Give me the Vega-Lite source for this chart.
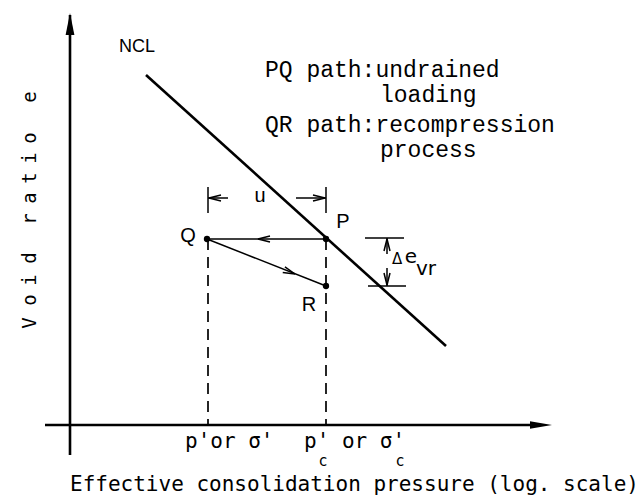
{
  "$schema": "https://vega.github.io/schema/vega-lite/v6.json",
  "width": 644,
  "height": 504,
  "autosize": {"type": "fit", "contains": "padding"},
  "padding": 0,
  "background": "white",
  "config": {"view": {"stroke": null}},
  "resolve": {"scale": {"shape": "independent"}},
  "datasets": {
    "thick": [
      {"x": 70, "y": 15, "x2": 70, "y2": 455},
      {"x": 45, "y": 425, "x2": 540, "y2": 425},
      {"x": 146, "y": 75, "x2": 446, "y2": 346}
    ],
    "thin": [
      {"x": 207, "y": 239, "x2": 326, "y2": 239},
      {"x": 207, "y": 239, "x2": 326, "y2": 286},
      {"x": 208, "y": 187, "x2": 208, "y2": 213},
      {"x": 326, "y": 187, "x2": 326, "y2": 213},
      {"x": 208, "y": 198, "x2": 228, "y2": 198},
      {"x": 296, "y": 198, "x2": 326, "y2": 198},
      {"x": 365, "y": 238, "x2": 404, "y2": 238},
      {"x": 368, "y": 286, "x2": 406, "y2": 286},
      {"x": 387, "y": 238, "x2": 387, "y2": 254},
      {"x": 387, "y": 268, "x2": 387, "y2": 286}
    ],
    "dashed": [
      {"x": 208, "y": 239, "x2": 208, "y2": 425},
      {"x": 326, "y": 239, "x2": 326, "y2": 425}
    ],
    "arrowsFilled": [
      {"x": 70, "y": 13, "dir": "up"},
      {"x": 552, "y": 425, "dir": "right"}
    ],
    "arrowsOpen": [
      {"x": 258, "y": 239, "dir": "left"},
      {"x": 295, "y": 274, "dir": "QR"},
      {"x": 209, "y": 198, "dir": "left"},
      {"x": 325, "y": 198, "dir": "right"},
      {"x": 387, "y": 239, "dir": "up"},
      {"x": 387, "y": 285, "dir": "down"}
    ],
    "dots": [
      {"x": 326, "y": 239, "name": "P"},
      {"x": 207, "y": 239, "name": "Q"},
      {"x": 326, "y": 286, "name": "R"}
    ],
    "pointLabels": [
      {"x": 188, "y": 236, "label": "Q"},
      {"x": 343, "y": 222, "label": "P"},
      {"x": 309, "y": 305, "label": "R"},
      {"x": 260, "y": 196, "label": "u"}
    ],
    "ncl": [{"x": 137, "y": 47, "label": "NCL"}],
    "notes": [
      {"x": 265, "y": 70, "label": "PQ path:undrained"},
      {"x": 380, "y": 95, "label": "loading"},
      {"x": 265, "y": 125, "label": "QR path:recompression"},
      {"x": 380, "y": 150, "label": "process"}
    ],
    "xlabels": [
      {"x": 185, "y": 442, "label": "p'or σ'"},
      {"x": 304, "y": 442, "label": "p' or σ'"},
      {"x": 70, "y": 485, "label": "Effective consolidation pressure (log. scale)"}
    ],
    "subs": [
      {"x": 323, "y": 461, "label": "c"},
      {"x": 400, "y": 461, "label": "c"}
    ],
    "delta": [{"x": 397, "y": 259, "label": "Δ"}],
    "deltaE": [{"x": 411, "y": 257, "label": "e"}],
    "deltaSub": [{"x": 426, "y": 269, "label": "vr"}],
    "ytitle": [
      {"x": 30, "y": 323, "label": "V"},
      {"x": 30, "y": 300, "label": "o"},
      {"x": 30, "y": 280, "label": "i"},
      {"x": 30, "y": 258, "label": "d"},
      {"x": 30, "y": 219, "label": "r"},
      {"x": 30, "y": 198, "label": "a"},
      {"x": 30, "y": 178, "label": "t"},
      {"x": 30, "y": 158, "label": "i"},
      {"x": 30, "y": 138, "label": "o"},
      {"x": 30, "y": 97, "label": "e"}
    ]
  },
  "encoding": {
    "x": {"field": "x", "type": "quantitative", "axis": null, "scale": {"domain": [0, 644], "nice": false, "zero": false}},
    "y": {"field": "y", "type": "quantitative", "axis": null, "scale": {"domain": [0, 504], "nice": false, "zero": false, "reverse": true}}
  },
  "layer": [
    {
      "data": {"name": "thick"},
      "mark": {"type": "rule", "color": "black", "strokeWidth": 2.6},
      "encoding": {"x2": {"field": "x2"}, "y2": {"field": "y2"}}
    },
    {
      "data": {"name": "thin"},
      "mark": {"type": "rule", "color": "black", "strokeWidth": 1.5},
      "encoding": {"x2": {"field": "x2"}, "y2": {"field": "y2"}}
    },
    {
      "data": {"name": "dashed"},
      "mark": {"type": "rule", "color": "black", "strokeWidth": 1.7, "strokeDash": [11, 7]},
      "encoding": {"x2": {"field": "x2"}, "y2": {"field": "y2"}}
    },
    {
      "data": {"name": "arrowsFilled"},
      "mark": {"type": "point", "filled": true, "color": "black", "opacity": 1, "size": 484},
      "encoding": {
        "shape": {"field": "dir", "type": "nominal", "legend": null,
          "scale": {"domain": ["up", "right"], "range": ["M0,0L0.4,2L-0.4,2Z", "M0,0L-2,0.35L-2,-0.35Z"]}}
      }
    },
    {
      "data": {"name": "arrowsOpen"},
      "mark": {"type": "point", "filled": false, "color": "black", "strokeWidth": 1.5, "opacity": 1, "size": 400},
      "encoding": {
        "shape": {"field": "dir", "type": "nominal", "legend": null,
          "scale": {"domain": ["up", "down", "left", "right", "QR"],
            "range": ["M-0.3,1.2L0,0L0.3,1.2", "M-0.3,-1.2L0,0L0.3,-1.2", "M1.2,-0.3L0,0L1.2,0.3", "M-1.2,-0.3L0,0L-1.2,0.3", "M-1.226,-0.161L0,0L-1.006,-0.719"]}}
      }
    },
    {
      "data": {"name": "dots"},
      "mark": {"type": "circle", "color": "black", "opacity": 1, "size": 40}
    },
    {
      "data": {"name": "pointLabels"},
      "mark": {"type": "text", "font": "Liberation Sans", "fontSize": 20, "color": "black", "baseline": "middle", "align": "center"},
      "encoding": {"text": {"field": "label"}}
    },
    {
      "data": {"name": "ncl"},
      "mark": {"type": "text", "font": "Liberation Sans", "fontSize": 18, "color": "black", "baseline": "middle", "align": "center"},
      "encoding": {"text": {"field": "label"}}
    },
    {
      "data": {"name": "notes"},
      "mark": {"type": "text", "font": "Liberation Mono", "fontSize": 23, "color": "black", "baseline": "middle", "align": "left"},
      "encoding": {"text": {"field": "label"}}
    },
    {
      "data": {"name": "xlabels"},
      "mark": {"type": "text", "font": "DejaVu Sans Mono", "fontSize": 21, "color": "black", "baseline": "middle", "align": "left"},
      "encoding": {"text": {"field": "label"}}
    },
    {
      "data": {"name": "subs"},
      "mark": {"type": "text", "font": "DejaVu Sans Mono", "fontSize": 15, "color": "black", "baseline": "middle", "align": "center"},
      "encoding": {"text": {"field": "label"}}
    },
    {
      "data": {"name": "delta"},
      "mark": {"type": "text", "font": "DejaVu Sans", "fontSize": 15, "color": "black", "baseline": "middle", "align": "center"},
      "encoding": {"text": {"field": "label"}}
    },
    {
      "data": {"name": "deltaE"},
      "mark": {"type": "text", "font": "DejaVu Sans", "fontSize": 20, "color": "black", "baseline": "middle", "align": "center"},
      "encoding": {"text": {"field": "label"}}
    },
    {
      "data": {"name": "deltaSub"},
      "mark": {"type": "text", "font": "DejaVu Sans", "fontSize": 20, "color": "black", "baseline": "middle", "align": "center"},
      "encoding": {"text": {"field": "label"}}
    },
    {
      "data": {"name": "ytitle"},
      "mark": {"type": "text", "font": "DejaVu Sans Mono", "fontSize": 19, "color": "black", "baseline": "middle", "align": "center", "angle": 270},
      "encoding": {"text": {"field": "label"}}
    }
  ]
}
